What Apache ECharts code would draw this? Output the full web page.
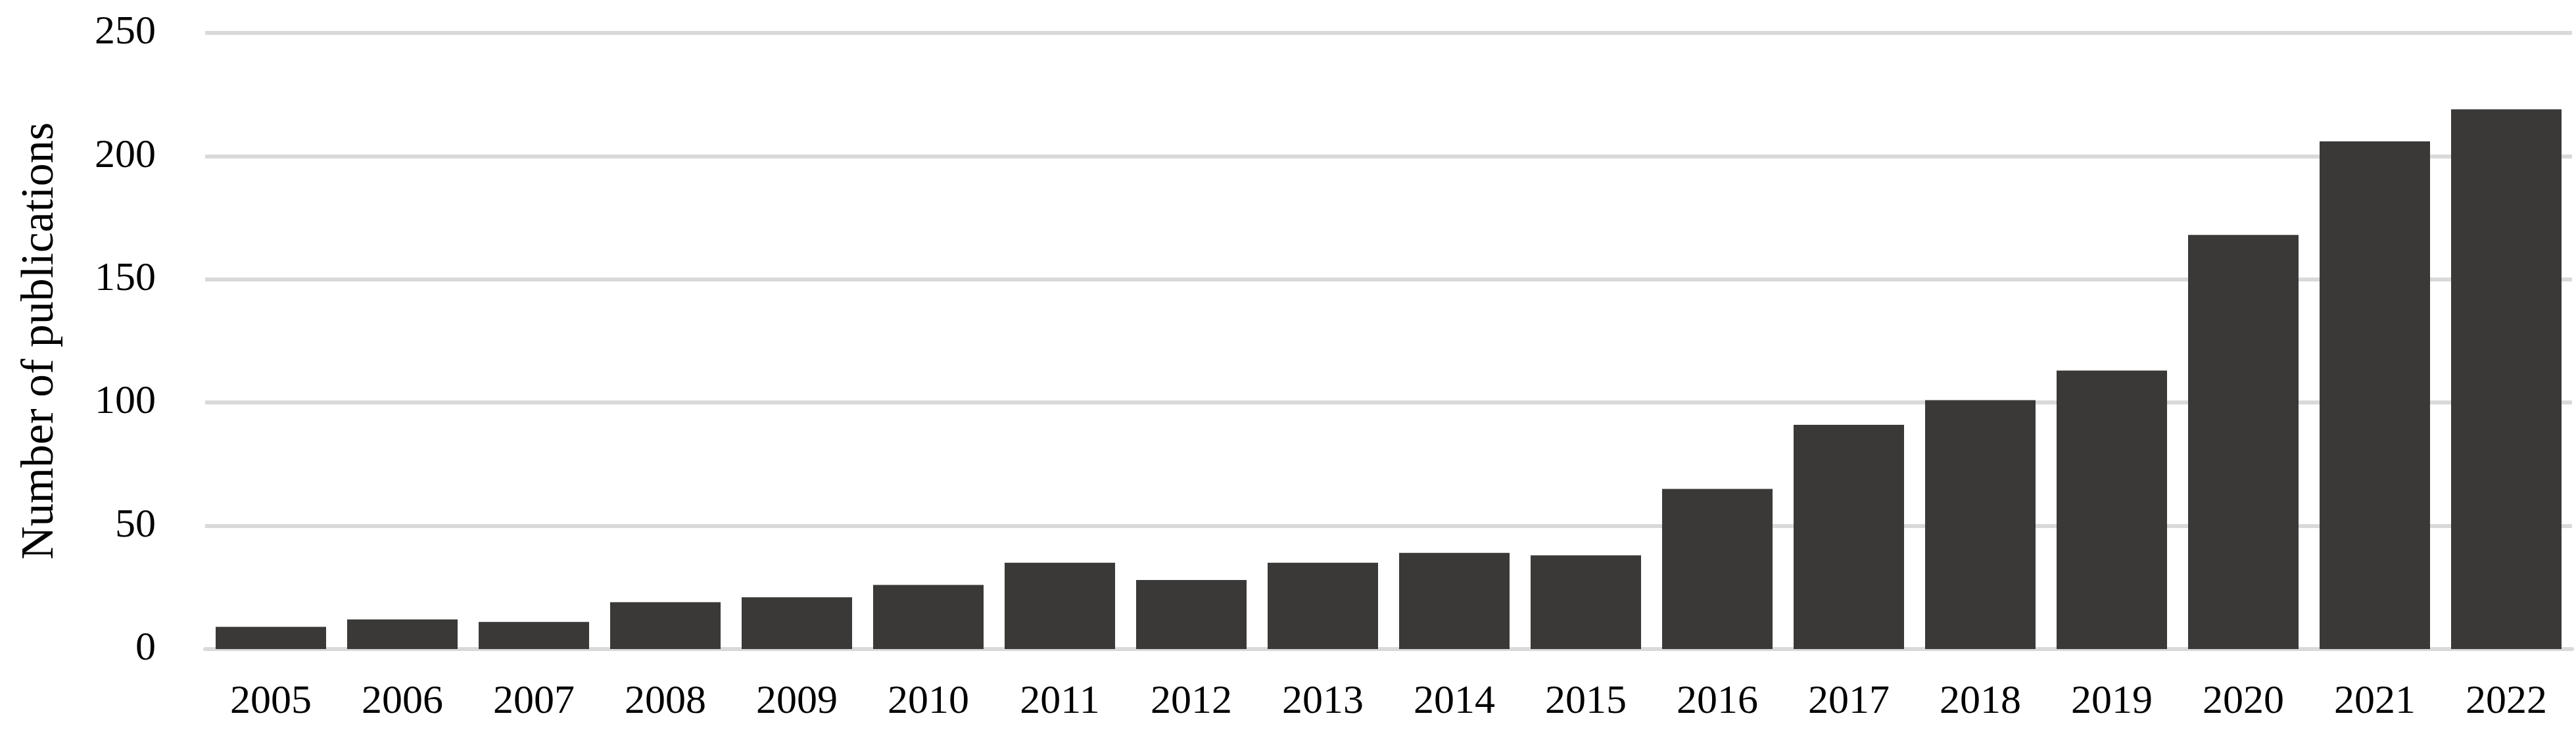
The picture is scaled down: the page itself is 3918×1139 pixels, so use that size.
<!DOCTYPE html>
<html lang="en">
<head>
    <meta charset="UTF-8">
    <script src="https://cdn.jsdelivr.net/npm/echarts@6/dist/echarts.min.js"></script>
    <style>
        html, body {margin:0; padding:0; background:#fff;}
        #chart {width:3918px; height:1139px;}
    </style>
    <title>Number of publications</title>
</head>
<body>
    <div id="chart"></div>
    <script>
        const years = ['2005','2006','2007','2008','2009','2010','2011','2012','2013','2014','2015','2016','2017','2018','2019','2020','2021','2022'];
        const publications = [9, 12, 11, 19, 21, 26, 35, 28, 35, 39, 38, 65, 91, 101, 113, 168, 206, 219];

        const font = '"Liberation Serif", "DejaVu Serif", serif';
        let chart = echarts.init(document.getElementById('chart'));
        chart.setOption({
            animation: false,
            grid: {left: 312, right: 6, top: 50, bottom: 152},
            xAxis: {
                type: 'category',
                data: years,
                axisLine: {lineStyle: {color: '#d9d9d9', width: 6}},
                axisTick: {show: false},
                axisLabel: {color: '#000', fontFamily: font, fontSize: 62, margin: 50}
            },
            yAxis: {
                type: 'value',
                min: 0, max: 250, interval: 50,
                name: 'Number of publications',
                nameLocation: 'middle',
                nameGap: 215,
                nameTextStyle: {color: '#000', fontFamily: font, fontSize: 70},
                splitLine: {lineStyle: {color: '#d9d9d9', width: 6}},
                axisLabel: {color: '#000', fontFamily: font, fontSize: 62, margin: 75}
            },
            series: [{
                type: 'bar',
                data: publications,
                barCategoryGap: '16%',
                itemStyle: {color: '#3a3937'}
            }]
        });
    </script>
</body>
</html>
